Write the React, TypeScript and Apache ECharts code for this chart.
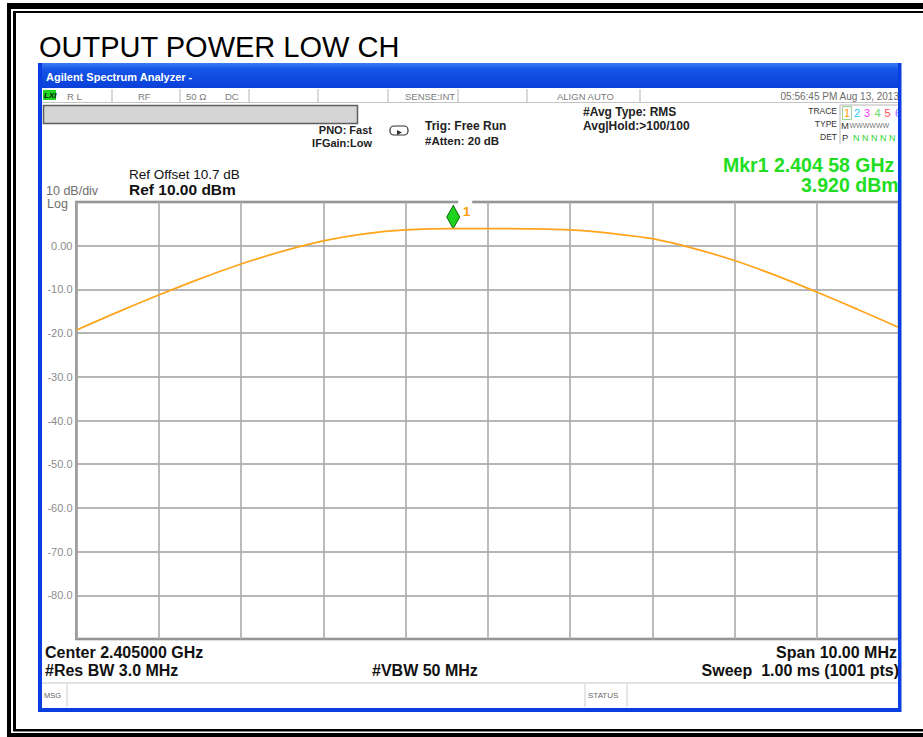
import React, { useEffect, useRef } from "react";
import * as echarts from "echarts";

// ---- data ----
const freqMHz = [2400, 2400.5, 2401, 2401.5, 2402, 2402.5, 2403, 2403.5, 2404, 2404.58, 2405, 2405.5, 2406, 2406.5, 2407, 2407.5, 2408, 2408.5, 2409, 2409.5, 2410];
const levelDbm = [-19.3, -15.2, -11.3, -7.6, -4.2, -1.3, 1.1, 2.7, 3.6, 3.92, 3.9, 3.85, 3.6, 2.8, 1.6, -0.6, -3.4, -6.8, -10.6, -14.6, -18.7];
const markerFreq = 2404.58;
const markerLevel = 3.92;
const yMin = -90;
const yMax = 10;
const xMin = 2400;
const xMax = 2410;

const titleText = "OUTPUT POWER LOW CH";
const bottomLeft = ["Center 2.405000 GHz", "#Res BW 3.0 MHz"];
const bottomMid = "#VBW 50 MHz";
const bottomRight = ["Span 10.00 MHz", "Sweep  1.00 ms (1001 pts)"];
const markerTexts = ["Mkr1 2.404 58 GHz", "3.920 dBm"];
const refTexts = ["Ref Offset 10.7 dB", "Ref 10.00 dBm"];
const statusCells = ["R L", "RF", "50 Ω", "DC", "SENSE:INT", "ALIGN AUTO"];
const traceDigits = ["1", "2", "3", "4", "5", "6"];
const traceColors = ["#ff9a00", "#22c8ff", "#ff33ff", "#66d866", "#ff4d4d", "#9966ff"];

const SANS = '"Liberation Sans", Arial, Helvetica, sans-serif';
const NARROW = '"Liberation Sans Narrow", "Liberation Sans", Arial, sans-serif';

type TOpts = { bold?: boolean; color?: string; align?: string; family?: string; z?: number; italic?: boolean };
const T = (text: string, x: number, y: number, size: number, o: TOpts = {}) => ({
  type: "text",
  x,
  y,
  z: o.z ?? 50,
  silent: true,
  style: {
    text,
    fontSize: size,
    fontFamily: o.family || SANS,
    fontWeight: o.bold ? "bold" : "normal",
    fontStyle: o.italic ? "italic" : "normal",
    fill: o.color || "#000",
    align: o.align || "left",
    verticalAlign: "middle",
  },
});
const R = (x: number, y: number, w: number, h: number, fill: string, z = 40, extra: any = {}) => ({
  type: "rect",
  z,
  silent: true,
  shape: { x, y, width: w, height: h, ...(extra.shape || {}) },
  style: { fill, ...(extra.style || {}) },
});
const L = (x1: number, y1: number, x2: number, y2: number, color: string, w = 1, z = 45) => ({
  type: "line",
  z,
  silent: true,
  shape: { x1, y1, x2, y2 },
  style: { stroke: color, lineWidth: w },
});

function buildGraphic(gapX: number | null, topY: number) {
  const g: any[] = [];
  // outer double frame
  g.push(R(7, 3, 916, 6, "#000", 99));
  g.push(R(13, 11, 910, 2, "#000", 99));
  g.push(R(7, 3, 4, 734, "#000", 99));
  g.push(R(13, 11, 3, 720, "#000", 99));
  g.push(R(13, 729, 910, 2.5, "#000", 99));
  g.push(R(7, 733, 916, 4, "#000", 99));

  // title
  g.push(T(titleText, 39, 47, 29));

  // white cover right of the analyzer window (screenshot crop)
  g.push(R(901, 58, 22, 660, "#fff", 90));

  // analyzer window frame
  g.push({
    type: "rect",
    z: 95,
    silent: true,
    shape: { x: 38, y: 63, width: 863, height: 25 },
    style: {
      fill: {
        type: "linear",
        x: 0,
        y: 0,
        x2: 0,
        y2: 1,
        colorStops: [
          { offset: 0, color: "#3c7cf4" },
          { offset: 0.25, color: "#1556e8" },
          { offset: 1, color: "#0a40d8" },
        ],
      },
    },
  });
  g.push(T("Agilent Spectrum Analyzer -", 46, 76.5, 11, { color: "#fff", bold: true, z: 96 }));
  g.push(R(38, 63, 4, 649, "#0b3ee0", 95));
  g.push(R(898, 63, 3.5, 649, "#0b3ee0", 95));
  g.push(R(38, 708, 863, 4, "#0b3ee0", 95));

  // status row
  g.push(L(42, 102.5, 898, 102.5, "#c4c4c4", 1));
  const seps = [112, 180, 249, 318, 388, 458, 527, 640];
  seps.forEach((sx) => g.push(L(sx, 89, sx, 102, "#b4b4b4", 1)));
  g.push(R(43, 90, 13, 10, "#1ed41e", 46));
  g.push(T("LXI", 44, 95.5, 8, { bold: true, italic: true, color: "#111", z: 47 }));
  const cellX = [67, 138, 186, 225, 405, 557];
  statusCells.forEach((t, i) => g.push(T(t, cellX[i], 96, 9.5, { color: "#7c7c7c", family: NARROW })));
  g.push(T("05:56:45 PM Aug 13, 2013", 899, 96.5, 10, { color: "#6c6c6c", family: NARROW, align: "right" }));

  // gray bar
  g.push(R(43.5, 105.5, 314, 18, "#d5d5d5", 45, { style: { stroke: "#5e5e5e", lineWidth: 1.5 } }));

  // settings text
  g.push(T("PNO: Fast", 372, 130, 11, { bold: true, color: "#222", align: "right", family: NARROW }));
  g.push(T("IFGain:Low", 372, 143, 11, { bold: true, color: "#222", align: "right", family: NARROW }));
  g.push({
    type: "rect",
    z: 46,
    silent: true,
    shape: { x: 390, y: 126, width: 18, height: 9, r: 4 },
    style: { fill: "none", stroke: "#333", lineWidth: 1.2 },
  });
  g.push({
    type: "polygon",
    z: 47,
    silent: true,
    shape: { points: [[397, 130], [402, 132.5], [397, 135]] },
    style: { fill: "#333" },
  });
  g.push(T("Trig: Free Run", 425, 126, 12, { bold: true, color: "#222" }));
  g.push(T("#Atten: 20 dB", 425, 140.5, 11.5, { bold: true, color: "#222" }));
  g.push(T("#Avg Type: RMS", 583, 112, 12, { bold: true, color: "#222" }));
  g.push(T("Avg|Hold:>100/100", 583, 126, 12, { bold: true, color: "#222" }));

  // trace table
  g.push(T("TRACE", 837, 111, 8.5, { color: "#333", align: "right", family: NARROW }));
  g.push(T("TYPE", 837, 124, 8.5, { color: "#333", align: "right", family: NARROW }));
  g.push(T("DET", 837, 137, 8.5, { color: "#333", align: "right", family: NARROW }));
  g.push({
    type: "polyline",
    z: 46,
    silent: true,
    shape: { points: [[840, 144], [840, 105], [899, 105]] },
    style: { stroke: "#b8b8b8", lineWidth: 1, fill: "none" },
  });
  g.push(R(842.5, 106.5, 9, 13, "none", 46, { style: { stroke: "#9bd19b", lineWidth: 1 } }));
  const dx = [844, 854, 864, 874.5, 884.5, 895];
  traceDigits.forEach((d, i) => g.push(T(d, dx[i], 113, 11, { color: traceColors[i] })));
  g.push(T("M", 841, 125, 9.5, { color: "#333", family: NARROW }));
  g.push(T("WWWWWW", 849.5, 125, 7, { color: "#777", family: NARROW }));
  g.push(T("P", 842, 137.5, 9.5, { color: "#333", family: NARROW }));
  g.push(T("N N N N N", 853, 137.5, 9, { color: "#2fd52f", family: NARROW }));

  // marker readout
  g.push(T(markerTexts[0], 723, 164.5, 19.5, { bold: true, color: "#22dd22" }));
  g.push(T(markerTexts[1], 801, 184.5, 19.5, { bold: true, color: "#22dd22" }));

  // ref texts
  g.push(T(refTexts[0], 129, 174, 13.5, { color: "#111" }));
  g.push(T(refTexts[1], 129, 189, 15.5, { bold: true, color: "#111" }));
  g.push(T("10 dB/div", 46, 191, 12.5, { color: "#6e6e6e" }));
  g.push(T("Log", 47, 203.5, 12.5, { color: "#6e6e6e" }));

  // bottom annotation
  g.push(T(bottomLeft[0], 45, 652, 16, { bold: true, color: "#111" }));
  g.push(T(bottomLeft[1], 45, 670, 16, { bold: true, color: "#111" }));
  g.push(T(bottomMid, 372, 670, 16, { bold: true, color: "#111" }));
  g.push(T(bottomRight[0], 897, 652, 16, { bold: true, color: "#111", align: "right" }));
  g.push(T(bottomRight[1], 899, 670, 16, { bold: true, color: "#111", align: "right" }));

  // message row
  g.push(L(42, 683, 898, 683, "#c8c8c8", 1.2));
  g.push(L(67, 684, 67, 707, "#cfcfcf", 1));
  g.push(L(585, 684, 585, 707, "#cfcfcf", 1));
  g.push(L(627, 684, 627, 707, "#cfcfcf", 1));
  g.push(T("MSG", 44, 695, 7.5, { color: "#666", family: NARROW }));
  g.push(T("STATUS", 588, 695, 8, { color: "#666", family: NARROW }));

  // gap in the top border above the marker number
  if (gapX !== null) {
    g.push(R(gapX + 5, topY - 3, 14, 6, "#fff", 10));
  }
  return g;
}

function buildOption(gapX: number | null, topY: number): any {
  return {
    animation: false,
    backgroundColor: "#ffffff",
    textStyle: { fontFamily: SANS },
    grid: {
      left: 76.5,
      top: 202,
      width: 822.5,
      height: 437,
      show: true,
      borderColor: "#7c7c7c",
      borderWidth: 2.5,
      backgroundColor: "transparent",
    },
    xAxis: {
      type: "value",
      min: xMin,
      max: xMax,
      interval: 1,
      axisLabel: { show: false },
      axisTick: { show: false },
      axisLine: { show: false },
      splitLine: { show: true, lineStyle: { color: "#ababab", width: 1.6 } },
    },
    yAxis: {
      type: "value",
      min: yMin,
      max: yMax,
      interval: 10,
      axisTick: { show: false },
      axisLine: { show: false },
      axisLabel: {
        margin: 4,
        color: "#8c8c8c",
        fontSize: 11,
        fontFamily: NARROW,
        formatter: (v: number) => (v === yMax || v === yMin ? "" : v === 0 ? "0.00" : v.toFixed(1)),
      },
      splitLine: { show: true, lineStyle: { color: "#9e9e9e", width: 1.6 } },
    },
    series: [
      {
        type: "line",
        data: freqMHz.map((f, i) => [f, levelDbm[i]]),
        showSymbol: false,
        smooth: 0.35,
        lineStyle: { color: "#ffa41c", width: 1.7 },
        z: 5,
        markPoint: {
          silent: true,
          data: [
            {
              coord: [markerFreq, markerLevel],
              symbol: "diamond",
              symbolSize: [13, 23],
              symbolOffset: [0, "-50%"],
              itemStyle: { color: "#1fd41f", borderColor: "#0e6a0e", borderWidth: 1 },
              label: {
                show: true,
                formatter: "1",
                position: "right",
                offset: [-2, -6],
                color: "#ff9a00",
                fontWeight: "bold",
                fontSize: 13,
              },
            },
          ],
        },
      },
    ],
    graphic: { elements: buildGraphic(gapX, topY) },
  };
}

export default function App() {
  const ref = useRef<HTMLDivElement>(null);
  useEffect(() => {
    if (!ref.current) return;
    const chart = echarts.init(ref.current, null, { renderer: "svg" });
    chart.setOption(buildOption(null, 0));
    const p = chart.convertToPixel({ gridIndex: 0 }, [markerFreq, yMax]) as number[];
    chart.setOption(buildOption(p[0], p[1]), { replaceMerge: ["graphic"] });
    return () => chart.dispose();
  }, []);
  return (
    <div
      ref={ref}
      style={{ position: "fixed", left: 0, top: 0, width: 923, height: 737, background: "#fff" }}
    />
  );
}
